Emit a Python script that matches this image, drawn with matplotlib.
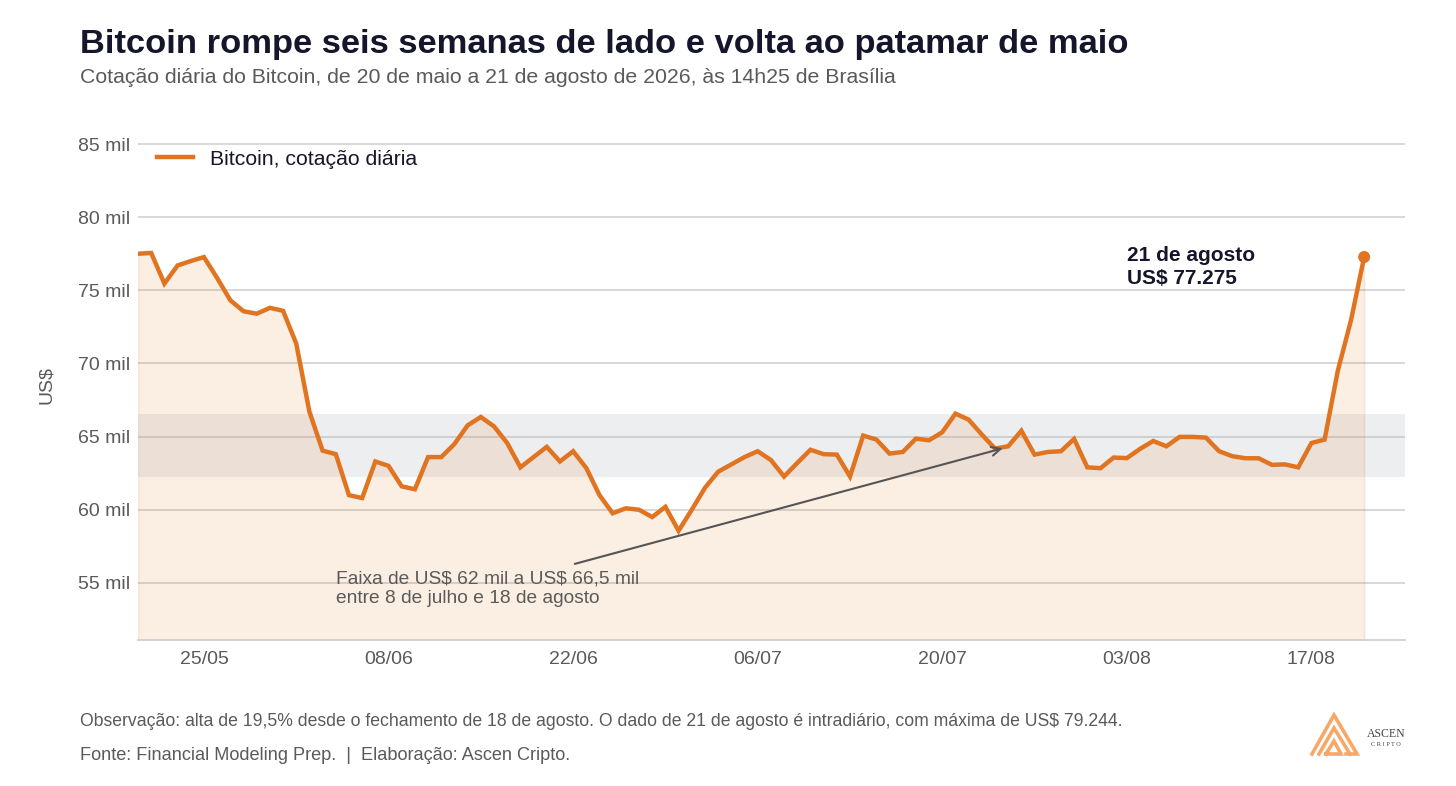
import pandas as pd
import matplotlib.pyplot as plt
import matplotlib.dates as mdates
from matplotlib.ticker import FuncFormatter
from matplotlib.lines import Line2D

plt.rcParams['font.family'] = ['Liberation Sans', 'DejaVu Sans']

# Dados: cotação diária do Bitcoin, em mil US$
inicio = '2026-05-20'
fim = '2026-08-21'
valores = [77.5, 77.55, 75.46, 76.7, 77.0, 77.27, 75.84, 74.32, 73.57, 73.4,
           73.8, 73.6, 71.36, 66.7, 64.04, 63.8, 61.0, 60.8, 63.3, 63.0,
           61.6, 61.4, 63.6, 63.6, 64.5, 65.77, 66.34, 65.7, 64.56, 62.9,
           63.6, 64.3, 63.3, 64.0, 62.85, 61.0, 59.76, 60.1, 60.0, 59.5,
           60.2, 58.56, 60.0, 61.5, 62.6, 63.1, 63.6, 64.0, 63.4, 62.27,
           63.2, 64.1, 63.8, 63.77, 62.27, 65.07, 64.8, 63.84, 63.95, 64.86,
           64.75, 65.3, 66.57, 66.16, 65.14, 64.18, 64.34, 65.4, 63.77, 63.95,
           64.0, 64.84, 62.9, 62.84, 63.57, 63.53, 64.16, 64.7, 64.34, 64.98,
           64.98, 64.93, 64.0, 63.66, 63.52, 63.52, 63.07, 63.1, 62.9, 64.56,
           64.8, 69.5, 72.95, 77.275]
faixa = (62.25, 66.55)
y_ticks = [55, 60, 65, 70, 75, 80, 85]

datas = pd.date_range(inicio, fim, freq='D')
s = pd.Series(valores, index=datas)

LARANJA = '#E07420'
ESCURO = '#15152b'
CINZA = '#5a5a5a'

fig = plt.figure(figsize=(14.56, 7.86), dpi=100)
ax = fig.add_axes([0.0948, 0.1858, 0.8702, 0.6496])

y0 = 51.1
ax.set_ylim(y0, 86)
ax.set_xlim(datas[0], datas[0] + pd.Timedelta(days=96.1))

# faixa de lateralização
ax.axhspan(faixa[0], faixa[1], color='#a7adb5', alpha=0.2, lw=0, zorder=1)

# área e linha
ax.fill_between(s.index, s.values, y0, color=LARANJA, alpha=0.12,
                edgecolor=(0.88, 0.45, 0.13, 0.25), lw=1.2, zorder=2)
ax.plot(s.index, s.values, color=LARANJA, lw=3.2, zorder=4,
        solid_joinstyle='miter', label='Bitcoin, cotação diária')
ax.scatter([s.index[-1]], [s.values[-1]], s=75, color=LARANJA, zorder=5,
           edgecolor='none')

# eixos
ax.set_yticks(y_ticks)
ax.yaxis.set_major_formatter(FuncFormatter(lambda v, p: f'{v:.0f} mil'))
ticks_x = pd.date_range('2026-05-25', fim, freq='14D')
ax.set_xticks(ticks_x)
ax.xaxis.set_major_formatter(mdates.DateFormatter('%d/%m'))
ax.grid(axis='y', color='#d6d6d6', lw=1.3, zorder=0)
ax.set_axisbelow(True)
for lado in ['top', 'right', 'left']:
    ax.spines[lado].set_visible(False)
ax.spines['bottom'].set_color('#d0d0d0')
ax.spines['bottom'].set_linewidth(1.3)
ax.tick_params(length=0, labelsize=14, labelcolor=CINZA)
ax.tick_params(axis='x', pad=8)
ax.tick_params(axis='y', pad=6)
ax.set_ylabel('US\\$', fontsize=14, color=CINZA, labelpad=16)

leg = ax.legend(loc='upper left', bbox_to_anchor=(0.0, 0.998), frameon=False,
                fontsize=15.3, handlelength=1.7, handletextpad=0.8,
                labelcolor=ESCURO)

# anotações
ax.text(pd.Timestamp('2026-08-03'), 76.6,
        '21 de agosto\nUS\\$ 77.275', fontsize=15, fontweight='bold',
        color=ESCURO, va='center', ha='left', linespacing=1.25)
ax.annotate('', xy=(pd.Timestamp('2026-07-24 14:00'), 64.2),
            xytext=(pd.Timestamp('2026-06-22 03:00'), 56.3),
            arrowprops=dict(arrowstyle='->', color='#555555', lw=1.5,
                            mutation_scale=16, shrinkA=0, shrinkB=0), zorder=6)
ax.text(pd.Timestamp('2026-06-04 00:00'), 54.6,
        'Faixa de US\\$ 62 mil a US\\$ 66,5 mil\nentre 8 de julho e 18 de agosto',
        fontsize=13.8, color=CINZA, va='center', ha='left', linespacing=1.2,
        zorder=6)

# títulos
fig.text(0.055, 0.944, 'Bitcoin rompe seis semanas de lado e volta ao patamar de maio',
         fontsize=24.8, fontweight='bold', color=ESCURO, va='center')
fig.text(0.055, 0.902, 'Cotação diária do Bitcoin, de 20 de maio a 21 de agosto de 2026, às 14h25 de Brasília',
         fontsize=15.3, color=CINZA, va='center')

# rodapé
fig.text(0.055, 0.082, 'Observação: alta de 19,5% desde o fechamento de 18 de agosto. '
         'O dado de 21 de agosto é intradiário, com máxima de US\\$ 79.244.',
         fontsize=12.7, color=CINZA, va='center')
fig.text(0.055, 0.039, 'Fonte: Financial Modeling Prep.  |  Elaboração: Ascen Cripto.',
         fontsize=13.1, color=CINZA, va='center')

# logotipo
W, H = 1456, 786
def px(x, y):
    return x / W, 1 - y / H
cor_logo = '#F8A769'
tracos = [
    [(1312, 754), (1334, 715), (1357, 754), (1346, 754)],
    [(1319, 754), (1334, 728), (1350, 754)],
    [(1326, 754), (1334, 741), (1341, 754), (1326, 754)],
]
for t in tracos:
    xs, ys = zip(*[px(a, b) for a, b in t])
    fig.add_artist(Line2D(xs, ys, color=cor_logo, lw=2.6,
                          solid_joinstyle='miter', transform=fig.transFigure))
fig.text(*px(1386, 734), 'ASCEN', fontsize=8.5, family='Liberation Serif',
         color='#444444', ha='center', va='center')
fig.text(*px(1386, 744), 'C R I P T O', fontsize=4.5, family='Liberation Serif',
         color='#444444', ha='center', va='center')

fig.savefig('out.png', dpi=100, facecolor='white')
